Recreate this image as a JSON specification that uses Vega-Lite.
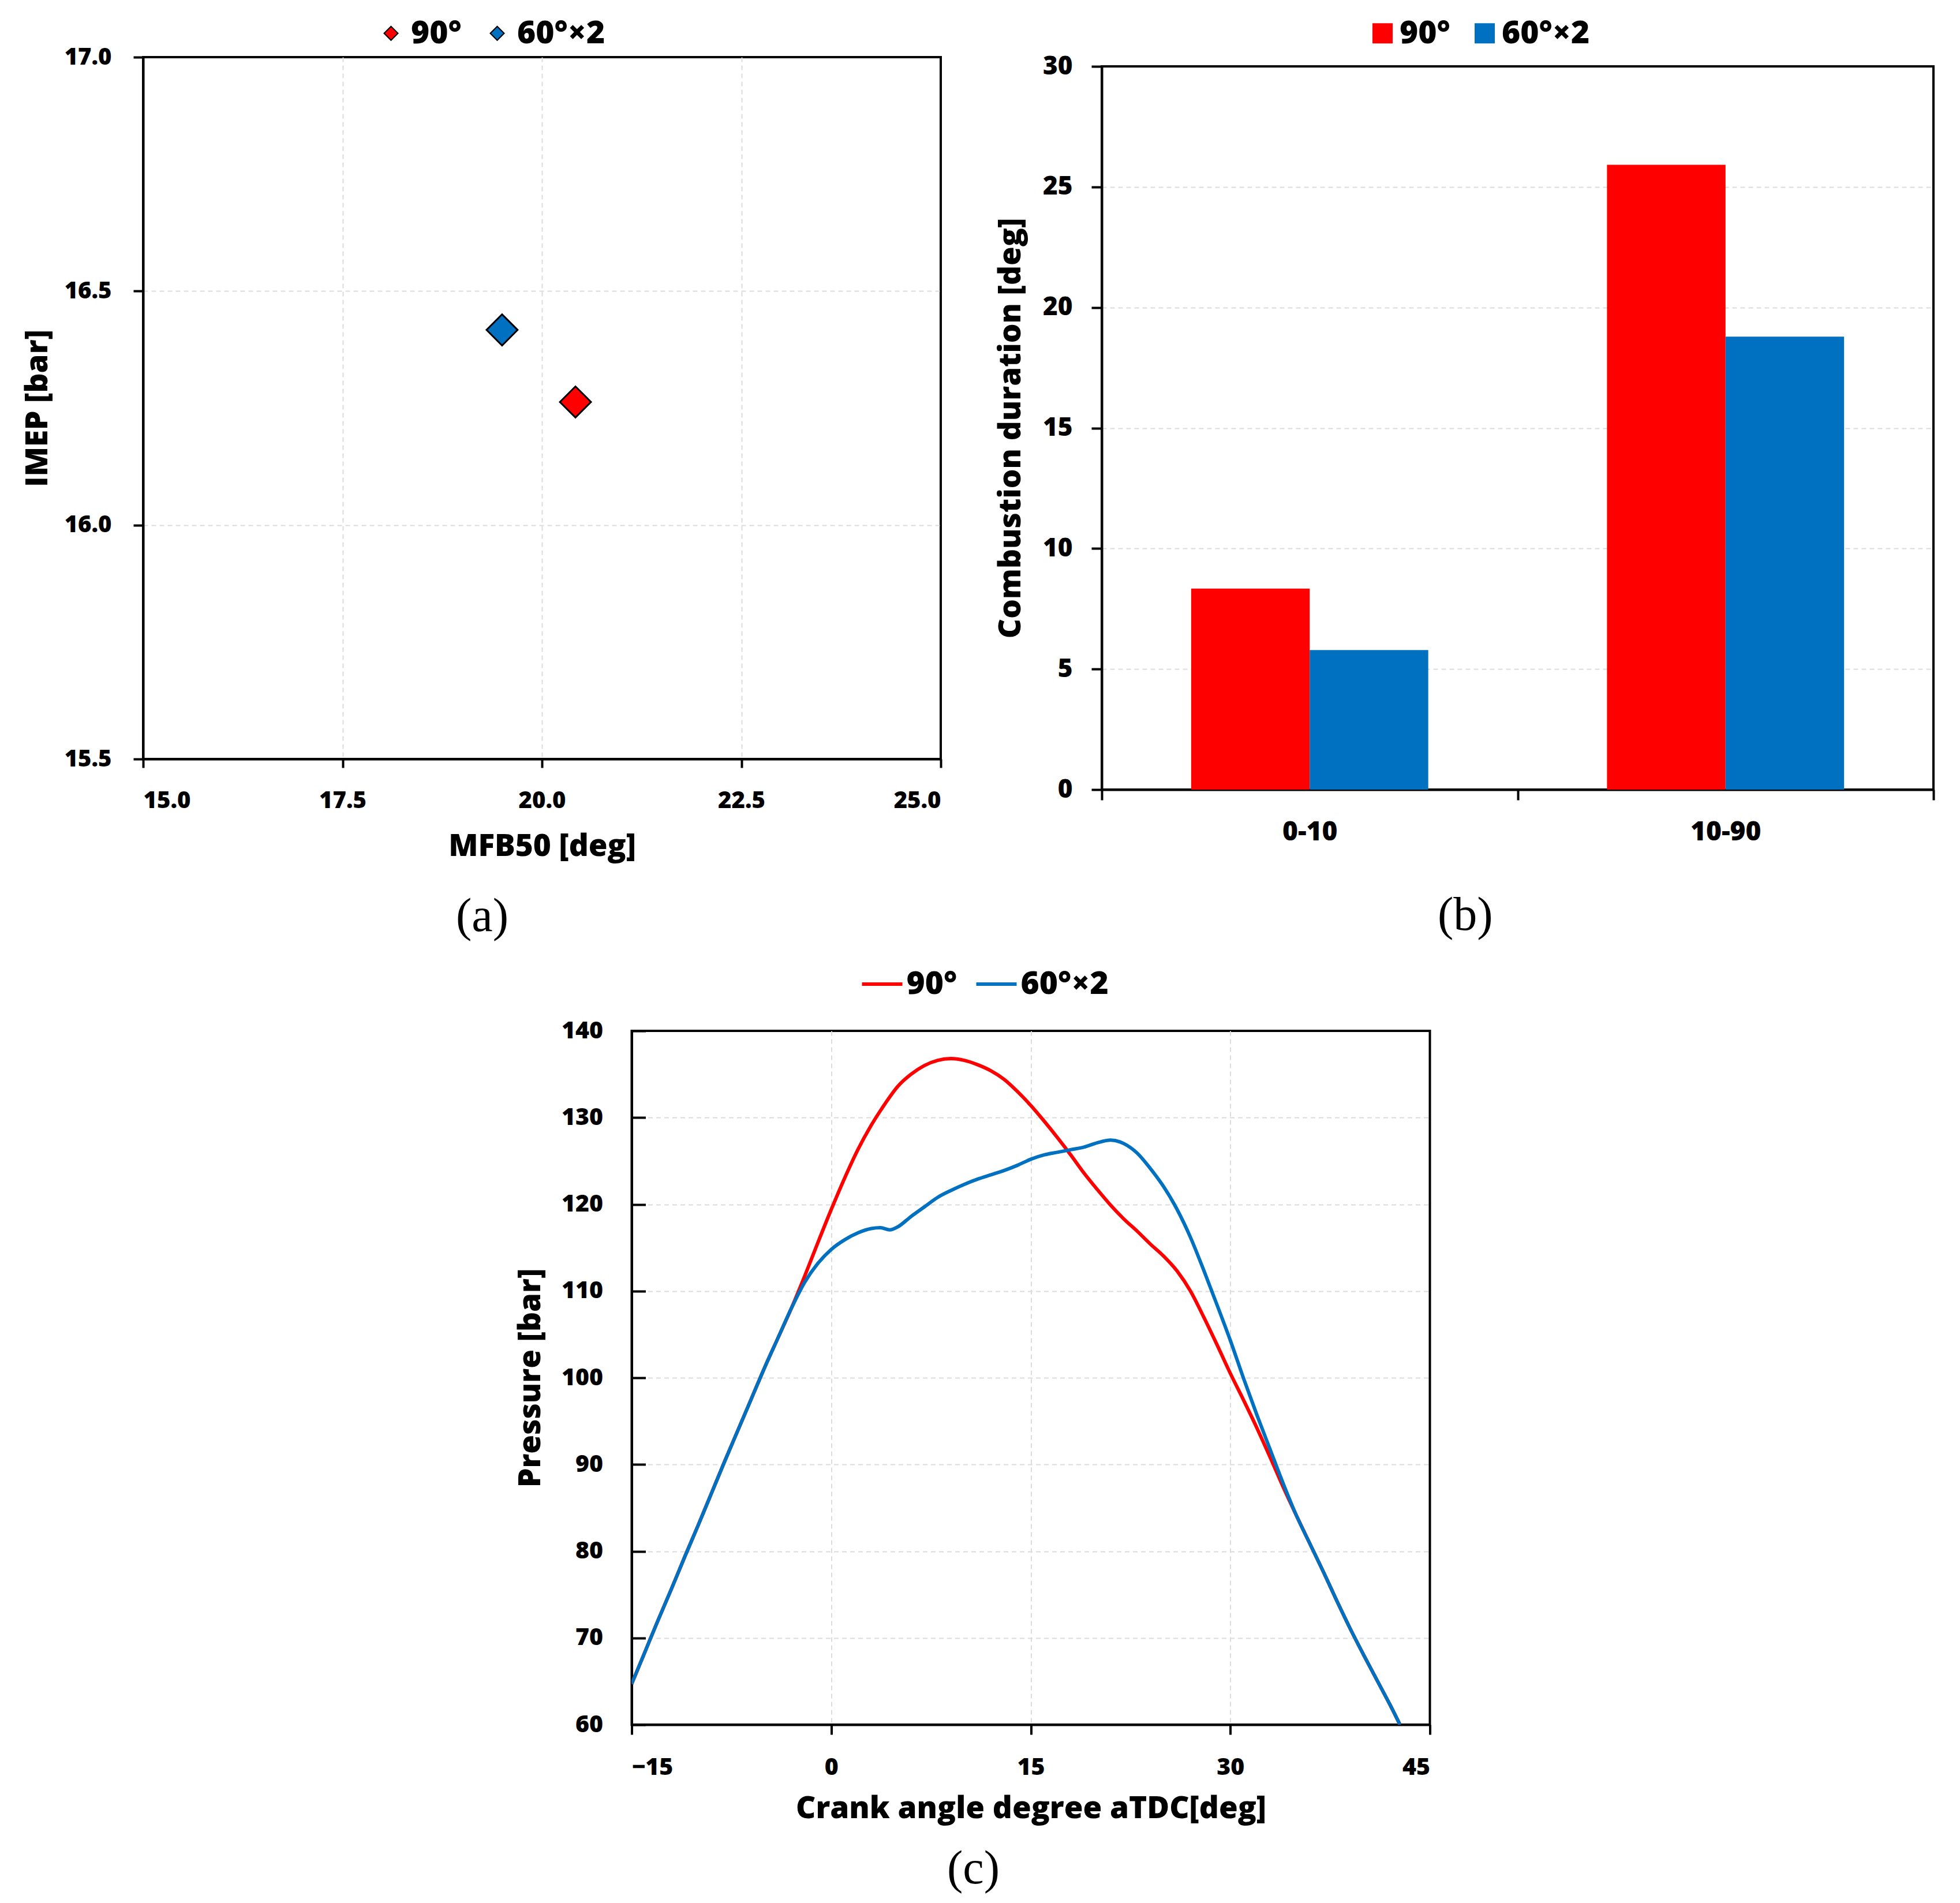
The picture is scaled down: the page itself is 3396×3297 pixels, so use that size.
{
  "$schema": "https://vega.github.io/schema/vega-lite/v6.json",
  "background": "white",
  "padding": {"left": 37, "top": 27, "right": 10, "bottom": 5},
  "config": {
    "font": "Open Sans",
    "view": {"stroke": "black", "strokeWidth": 4},
    "axis": {
      "labelFont": "Open Sans", "labelFontWeight": 800, "labelColor": "black", "labelFontSize": 40,
      "titleFont": "Open Sans", "titleFontWeight": 800, "titleFontSize": 53, "titleColor": "black",
      "domainColor": "black", "domainWidth": 4, "tickColor": "black", "tickWidth": 4, "tickSize": 16,
      "gridColor": "#dcdcdc", "gridDash": [8, 6], "gridWidth": 2
    },
    "legend": {
      "labelFont": "Open Sans", "labelFontWeight": 800, "labelColor": "black", "labelFontSize": 55,
      "padding": 0, "direction": "horizontal", "orient": "none"
    },
    "title": {"font": "Liberation Serif", "fontSize": 82, "fontWeight": "normal", "color": "black", "orient": "bottom", "anchor": "middle", "frame": "bounds"}
  },
  "resolve": {"scale": {"color": "independent"}, "legend": {"color": "independent"}},
  "center": true,
  "spacing": 36,
  "vconcat": [
    {
      "resolve": {"scale": {"color": "independent"}, "legend": {"color": "independent"}},
      "spacing": 89,
      "hconcat": [
        {
          "spacing": 0,
          "resolve": {"scale": {"color": "independent"}, "legend": {"color": "independent"}},
          "vconcat": [
            {"width": 10, "height": 1, "data": {"values": []}, "mark": {"type": "point"}, "view": {"stroke": null}},
            {
              "width": 1382, "height": 1216,
              "title": {"text": "(a)", "offset": 55},
              "data": {"values": [
                {"cfg": "90°", "mfb50": 20.42, "imep": 16.263},
                {"cfg": "60°×2", "mfb50": 19.5, "imep": 16.417}
              ]},
              "mark": {"type": "point", "shape": "diamond", "filled": true, "size": 2900, "stroke": "black", "strokeWidth": 3, "opacity": 1},
              "encoding": {
                "x": {"field": "mfb50", "type": "quantitative",
                  "scale": {"domain": [15, 25], "nice": false, "zero": false},
                  "axis": {"title": "MFB50 [deg]", "values": [15, 17.5, 20, 22.5, 25], "format": ".1f",
                    "tickSize": 15, "labelPadding": 37, "titlePadding": 33,
                    "gridOpacity": {"condition": {"test": "datum.value == 15 || datum.value == 25", "value": 0}, "value": 1}}},
                "y": {"field": "imep", "type": "quantitative",
                  "scale": {"domain": [15.5, 17], "nice": false, "zero": false},
                  "axis": {"title": "IMEP [bar]", "values": [15.5, 16, 16.5, 17], "format": ".1f",
                    "tickSize": 17, "labelPadding": 38, "titlePadding": 19,
                    "gridOpacity": {"condition": {"test": "datum.value == 15.5 || datum.value == 17", "value": 0}, "value": 1}}},
                "color": {"field": "cfg", "type": "nominal",
                  "scale": {"domain": ["90°", "60°×2"], "range": ["#ff0000", "#0070c0"]},
                  "legend": {"title": null, "legendX": 402, "legendY": -69, "symbolType": "diamond", "symbolSize": 576,
                    "symbolStrokeColor": "black", "symbolStrokeWidth": 2, "labelOffset": 7, "columnPadding": 34}}
              }
            }
          ]
        },
        {
          "spacing": 0,
          "resolve": {"scale": {"color": "independent"}, "legend": {"color": "independent"}},
          "vconcat": [
            {"width": 10, "height": 1, "data": {"values": []}, "mark": {"type": "point"}, "view": {"stroke": null}},
            {
              "width": 1441, "height": 1253,
              "title": {"text": "(b)", "offset": 82},
              "data": {"values": [
                {"phase": "0-10", "cfg": "90°", "v": 8.34},
                {"phase": "0-10", "cfg": "60°×2", "v": 5.79},
                {"phase": "10-90", "cfg": "90°", "v": 25.92},
                {"phase": "10-90", "cfg": "60°×2", "v": 18.79}
              ]},
              "mark": {"type": "bar"},
              "encoding": {
                "x": {"field": "phase", "type": "nominal",
                  "scale": {"paddingInner": 0, "paddingOuter": 0},
                  "axis": {"title": null, "labelAngle": 0, "tickBand": "extent", "grid": false,
                    "labelFontSize": 46, "tickSize": 18, "labelPadding": 33}},
                "xOffset": {"field": "cfg", "type": "nominal", "sort": ["90°", "60°×2"],
                  "scale": {"paddingInner": 0, "paddingOuter": 0.754}},
                "y": {"field": "v", "type": "quantitative",
                  "scale": {"domain": [0, 30], "nice": false},
                  "axis": {"title": "Combustion duration [deg]", "values": [0, 5, 10, 15, 20, 25, 30],
                    "labelFontSize": 44, "tickSize": 18, "labelPadding": 33, "titlePadding": 28,
                    "gridOpacity": {"condition": {"test": "datum.value == 0 || datum.value == 30", "value": 0}, "value": 1}}},
                "color": {"field": "cfg", "type": "nominal",
                  "scale": {"domain": ["90°", "60°×2"], "range": ["#ff0000", "#0070c0"]},
                  "legend": {"title": null, "legendX": 459, "legendY": -85, "symbolType": "square", "symbolSize": 1225,
                    "symbolStrokeWidth": 0, "labelOffset": 2, "columnPadding": 32}}
              }
            }
          ]
        }
      ]
    },
    {
      "spacing": 0,
      "hconcat": [
        {
          "width": 1383, "height": 1202,
          "title": {"text": "(c)", "offset": 38},
          "data": {"values": [
            {"cfg": "90°", "deg": -15, "p": 64.7},
            {"cfg": "90°", "deg": -14, "p": 68.4},
            {"cfg": "90°", "deg": -13, "p": 72.1},
            {"cfg": "90°", "deg": -12, "p": 75.7},
            {"cfg": "90°", "deg": -11, "p": 79.4},
            {"cfg": "90°", "deg": -10, "p": 83.0},
            {"cfg": "90°", "deg": -9, "p": 86.7},
            {"cfg": "90°", "deg": -8, "p": 90.4},
            {"cfg": "90°", "deg": -7, "p": 94.0},
            {"cfg": "90°", "deg": -6, "p": 97.6},
            {"cfg": "90°", "deg": -5, "p": 101.2},
            {"cfg": "90°", "deg": -4, "p": 104.6},
            {"cfg": "90°", "deg": -3, "p": 108.0},
            {"cfg": "90°", "deg": -2, "p": 111.7},
            {"cfg": "90°", "deg": -1, "p": 115.6},
            {"cfg": "90°", "deg": 0, "p": 119.4},
            {"cfg": "90°", "deg": 1, "p": 123.0},
            {"cfg": "90°", "deg": 2, "p": 126.3},
            {"cfg": "90°", "deg": 3, "p": 129.1},
            {"cfg": "90°", "deg": 4, "p": 131.5},
            {"cfg": "90°", "deg": 5, "p": 133.6},
            {"cfg": "90°", "deg": 6, "p": 135.0},
            {"cfg": "90°", "deg": 7, "p": 136.0},
            {"cfg": "90°", "deg": 8, "p": 136.6},
            {"cfg": "90°", "deg": 9, "p": 136.8},
            {"cfg": "90°", "deg": 10, "p": 136.6},
            {"cfg": "90°", "deg": 11, "p": 136.1},
            {"cfg": "90°", "deg": 12, "p": 135.4},
            {"cfg": "90°", "deg": 13, "p": 134.4},
            {"cfg": "90°", "deg": 14, "p": 133.0},
            {"cfg": "90°", "deg": 15, "p": 131.4},
            {"cfg": "90°", "deg": 16, "p": 129.6},
            {"cfg": "90°", "deg": 17, "p": 127.7},
            {"cfg": "90°", "deg": 18, "p": 125.7},
            {"cfg": "90°", "deg": 19, "p": 123.6},
            {"cfg": "90°", "deg": 20, "p": 121.7},
            {"cfg": "90°", "deg": 21, "p": 119.9},
            {"cfg": "90°", "deg": 22, "p": 118.3},
            {"cfg": "90°", "deg": 23, "p": 116.9},
            {"cfg": "90°", "deg": 24, "p": 115.4},
            {"cfg": "90°", "deg": 25, "p": 114.0},
            {"cfg": "90°", "deg": 26, "p": 112.3},
            {"cfg": "90°", "deg": 27, "p": 110.0},
            {"cfg": "90°", "deg": 28, "p": 107.0},
            {"cfg": "90°", "deg": 29, "p": 103.8},
            {"cfg": "90°", "deg": 30, "p": 100.5},
            {"cfg": "90°", "deg": 31, "p": 97.4},
            {"cfg": "90°", "deg": 32, "p": 94.2},
            {"cfg": "90°", "deg": 33, "p": 90.8},
            {"cfg": "90°", "deg": 34, "p": 87.3},
            {"cfg": "90°", "deg": 35, "p": 84.0},
            {"cfg": "90°", "deg": 36, "p": 80.8},
            {"cfg": "90°", "deg": 37, "p": 77.6},
            {"cfg": "90°", "deg": 38, "p": 74.3},
            {"cfg": "90°", "deg": 39, "p": 71.1},
            {"cfg": "90°", "deg": 40, "p": 68.1},
            {"cfg": "90°", "deg": 41, "p": 65.2},
            {"cfg": "90°", "deg": 42, "p": 62.3},
            {"cfg": "90°", "deg": 42.75, "p": 60.0},
            {"cfg": "60°×2", "deg": -15, "p": 64.7},
            {"cfg": "60°×2", "deg": -14, "p": 68.4},
            {"cfg": "60°×2", "deg": -13, "p": 72.1},
            {"cfg": "60°×2", "deg": -12, "p": 75.7},
            {"cfg": "60°×2", "deg": -11, "p": 79.4},
            {"cfg": "60°×2", "deg": -10, "p": 83.0},
            {"cfg": "60°×2", "deg": -9, "p": 86.7},
            {"cfg": "60°×2", "deg": -8, "p": 90.4},
            {"cfg": "60°×2", "deg": -7, "p": 94.0},
            {"cfg": "60°×2", "deg": -6, "p": 97.6},
            {"cfg": "60°×2", "deg": -5, "p": 101.2},
            {"cfg": "60°×2", "deg": -4, "p": 104.6},
            {"cfg": "60°×2", "deg": -3, "p": 108.0},
            {"cfg": "60°×2", "deg": -2, "p": 111.0},
            {"cfg": "60°×2", "deg": -1, "p": 113.2},
            {"cfg": "60°×2", "deg": 0, "p": 114.8},
            {"cfg": "60°×2", "deg": 1, "p": 115.9},
            {"cfg": "60°×2", "deg": 2, "p": 116.7},
            {"cfg": "60°×2", "deg": 3, "p": 117.2},
            {"cfg": "60°×2", "deg": 3.7, "p": 117.3},
            {"cfg": "60°×2", "deg": 4.4, "p": 117.05},
            {"cfg": "60°×2", "deg": 5, "p": 117.4},
            {"cfg": "60°×2", "deg": 6, "p": 118.6},
            {"cfg": "60°×2", "deg": 7, "p": 119.7},
            {"cfg": "60°×2", "deg": 8, "p": 120.8},
            {"cfg": "60°×2", "deg": 9, "p": 121.6},
            {"cfg": "60°×2", "deg": 10, "p": 122.3},
            {"cfg": "60°×2", "deg": 11, "p": 122.9},
            {"cfg": "60°×2", "deg": 12, "p": 123.4},
            {"cfg": "60°×2", "deg": 13, "p": 123.9},
            {"cfg": "60°×2", "deg": 14, "p": 124.5},
            {"cfg": "60°×2", "deg": 15, "p": 125.2},
            {"cfg": "60°×2", "deg": 16, "p": 125.7},
            {"cfg": "60°×2", "deg": 17, "p": 126.0},
            {"cfg": "60°×2", "deg": 18, "p": 126.3},
            {"cfg": "60°×2", "deg": 19, "p": 126.6},
            {"cfg": "60°×2", "deg": 20, "p": 127.1},
            {"cfg": "60°×2", "deg": 21, "p": 127.4},
            {"cfg": "60°×2", "deg": 21.7, "p": 127.2},
            {"cfg": "60°×2", "deg": 22, "p": 127.0},
            {"cfg": "60°×2", "deg": 23, "p": 125.9},
            {"cfg": "60°×2", "deg": 24, "p": 124.1},
            {"cfg": "60°×2", "deg": 25, "p": 122.0},
            {"cfg": "60°×2", "deg": 26, "p": 119.4},
            {"cfg": "60°×2", "deg": 27, "p": 116.2},
            {"cfg": "60°×2", "deg": 28, "p": 112.4},
            {"cfg": "60°×2", "deg": 29, "p": 108.4},
            {"cfg": "60°×2", "deg": 30, "p": 104.3},
            {"cfg": "60°×2", "deg": 31, "p": 99.9},
            {"cfg": "60°×2", "deg": 32, "p": 95.7},
            {"cfg": "60°×2", "deg": 33, "p": 91.7},
            {"cfg": "60°×2", "deg": 34, "p": 87.7},
            {"cfg": "60°×2", "deg": 35, "p": 84.0},
            {"cfg": "60°×2", "deg": 36, "p": 80.8},
            {"cfg": "60°×2", "deg": 37, "p": 77.6},
            {"cfg": "60°×2", "deg": 38, "p": 74.3},
            {"cfg": "60°×2", "deg": 39, "p": 71.1},
            {"cfg": "60°×2", "deg": 40, "p": 68.1},
            {"cfg": "60°×2", "deg": 41, "p": 65.2},
            {"cfg": "60°×2", "deg": 42, "p": 62.3},
            {"cfg": "60°×2", "deg": 42.75, "p": 60.0}
          ]},
          "mark": {"type": "line", "strokeWidth": 6, "interpolate": "monotone", "clip": true},
          "encoding": {
            "x": {"field": "deg", "type": "quantitative",
              "scale": {"domain": [-15, 45], "nice": false, "zero": false},
              "axis": {"title": "Crank angle degree aTDC[deg]", "values": [-15, 0, 15, 30, 45],
                "labelFontSize": 41, "tickSize": 17, "labelPadding": 37, "titlePadding": 25,
                "gridOpacity": {"condition": {"test": "datum.value == -15 || datum.value == 45", "value": 0}, "value": 1}}},
            "y": {"field": "p", "type": "quantitative",
              "scale": {"domain": [60, 140], "nice": false, "zero": false},
              "axis": {"title": "Pressure [bar]", "values": [60, 70, 80, 90, 100, 110, 120, 130, 140],
                "labelFontSize": 41, "tickSize": -24, "labelPadding": 74, "titlePadding": 26,
                "gridOpacity": {"condition": {"test": "datum.value == 60 || datum.value == 140", "value": 0}, "value": 1}}},
            "color": {"field": "cfg", "type": "nominal",
              "scale": {"domain": ["90°", "60°×2"], "range": ["#ff0000", "#0070c0"]},
              "legend": {"title": null, "legendX": 396, "legendY": -119, "symbolType": "stroke", "symbolSize": 4900,
                "symbolStrokeWidth": 6, "labelOffset": 4, "columnPadding": 21}}
          }
        },
        {"width": 26, "height": 1, "data": {"values": []}, "mark": {"type": "point"}, "view": {"stroke": null}}
      ]
    }
  ]
}
